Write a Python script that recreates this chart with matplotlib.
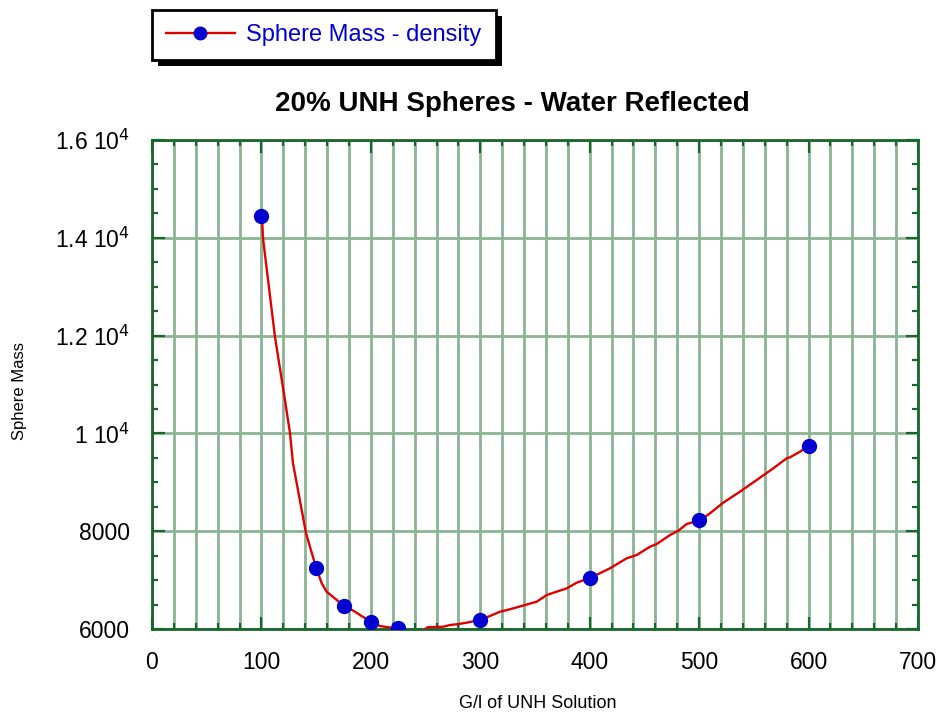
import numpy as np
import matplotlib.pyplot as plt
from matplotlib.patches import Rectangle
from matplotlib.ticker import MultipleLocator, FixedLocator, FixedFormatter

plt.rcParams['font.family'] = ['Liberation Sans', 'DejaVu Sans']

# measured points
conc = [100, 150, 175, 200, 225, 300, 400, 500, 600]
mass = [14450, 7250, 6480, 6150, 6020, 6190, 7050, 8230, 9750]

# fitted curve as drawn in the original
curve_x = [100.5, 101.4, 112.4, 121.5, 126.1, 128.8, 140.7, 150, 155.1, 159.6, 168.8,
           175, 184, 190.1, 200, 208.4, 216, 225, 232, 245, 251.9, 266.2, 272.3,
           278.4, 287.6, 300, 308.9, 318, 321, 330.2, 351.5, 360.7, 379, 388.1,
           400.9, 418.5, 433.8, 442.9, 455.1, 461.2, 473.4, 481, 488.6, 501.4,
           509.9, 522, 537.3, 552.6, 567.8, 580, 583, 592.2, 600.4]
curve_y = [14450, 13996, 11971, 10683, 10008, 9395, 7963, 7250, 6935, 6763, 6593,
           6480, 6374, 6286, 6150, 6061, 6035, 6000, 5940, 5930, 6035, 6047, 6082,
           6096, 6129, 6190, 6266, 6354, 6368, 6423, 6558, 6695, 6832, 6947,
           7050, 7241, 7446, 7513, 7683, 7738, 7922, 8010, 8147, 8230,
           8366, 8583, 8808, 9047, 9286, 9491, 9511, 9626, 9750]

ytick_vals = [6000, 8000, 10000, 12000, 14000, 16000]
ytick_text = ['6000', '8000', r'1 10$^4$', r'1.2 10$^4$', r'1.4 10$^4$', r'1.6 10$^4$']

dark_green = '#17662a'
grid_green = '#8bb492'
W, H = 943, 715

fig = plt.figure(figsize=(W / 100, H / 100), dpi=100)
ax = fig.add_axes([152/W, 1 - 629/H, (918 - 152)/W, (629 - 140)/H])

ax.plot(curve_x, curve_y, color='#e00000', lw=1.7, zorder=3)
ax.plot(conc, mass, ls='none', marker='o', ms=10, color='#0000d0', zorder=4)

ax.set_xlim(0, 700)
ax.set_ylim(6000, 16000)
ax.xaxis.set_major_locator(MultipleLocator(100))
ax.xaxis.set_minor_locator(MultipleLocator(20))
ax.yaxis.set_major_locator(FixedLocator(ytick_vals))
ax.yaxis.set_major_formatter(FixedFormatter(ytick_text))
ax.yaxis.set_minor_locator(MultipleLocator(500))

ax.grid(True, which='major', axis='y', color=grid_green, lw=2.0, zorder=1)
ax.grid(True, which='both', axis='x', color=grid_green, lw=2.0, zorder=1)
ax.set_axisbelow(True)

for s in ax.spines.values():
    s.set_color(dark_green)
    s.set_linewidth(2)
ax.tick_params(which='both', direction='in', top=True, right=True,
               color=dark_green, width=1.6, labelsize=16.5, labelcolor='black')
ax.tick_params(which='major', length=9)
ax.tick_params(axis='x', which='major', pad=16)
ax.tick_params(axis='y', which='major', pad=16)
ax.tick_params(which='minor', length=4.5)

fig.text(512/W, 1 - 104/H, '20% UNH Spheres - Water Reflected',
         ha='center', va='center', fontsize=20, fontweight='bold')
fig.text(20/W, 1 - 391/H, 'Sphere Mass', rotation=90,
         ha='center', va='center', fontsize=12)
fig.text(538/W, 1 - 703/H, 'G/l of UNH Solution',
         ha='center', va='center', fontsize=13)

h, = ax.plot([], [], color='#e00000', lw=1.7, marker='o', ms=9,
             mfc='#0000d0', mec='#0000d0')
leg = fig.legend([h], ['Sphere Mass - density'], loc='upper left',
                 bbox_to_anchor=(152/W, 1 - 10/H), borderaxespad=0,
                 fontsize=17, fancybox=False, framealpha=1, edgecolor='black',
                 handlelength=2.9, borderpad=0.6, handletextpad=0.5)
leg.get_frame().set_linewidth(2)
for t in leg.get_texts():
    t.set_color('#0000d0')

# hard black drop shadow behind the legend box
fig.canvas.draw()
bb = leg.get_window_extent()
shadow = Rectangle(((bb.x0 + 6) / W, (bb.y0 - 6) / H), bb.width / W, bb.height / H,
                   transform=fig.transFigure, facecolor='black', edgecolor='none',
                   zorder=leg.get_zorder() - 0.1)
fig.patches.append(shadow)

fig.savefig('out.png', dpi=100)
